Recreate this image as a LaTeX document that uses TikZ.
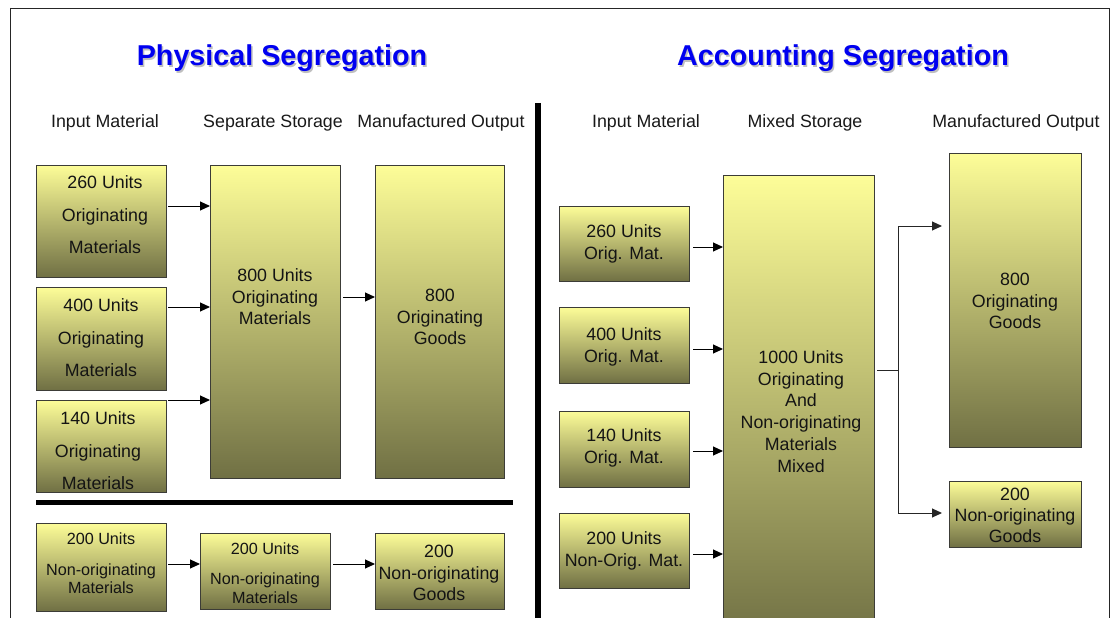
\documentclass[tikz,border=0pt]{standalone}
\usepackage{fontspec}
\setmainfont{Liberation Sans}
\usetikzlibrary{arrows.meta,calc}

\definecolor{boxtop}{RGB}{253,253,152}
\definecolor{boxbot}{RGB}{112,112,68}
\definecolor{boxline}{RGB}{60,60,55}
\definecolor{titleblue}{RGB}{0,0,240}

\tikzset{
  box/.style={draw=boxline, line width=0.9pt, top color=boxtop, bottom color=boxbot,
              inner sep=0pt, outer sep=0pt, anchor=north west},
  lbl/.style={align=center, inner sep=0pt, text=black!92},
  hdr/.style={font=\fontsize{17.8}{21}\selectfont, inner sep=0pt, anchor=base, text=black!90},
  ttl/.style={font=\fontsize{28.7}{34}\selectfont\bfseries, inner sep=0pt, anchor=base},
  arr/.style={line width=1pt, -{Triangle[length=10pt,width=9pt]}},
  conn/.style={line width=0.9pt, draw=black!85},
  bar/.style={line cap=butt, draw=black},
}

% \pbox{name}{left}{top}{right}{bottom}
\newcommand\pbox[5]{%
  \node[box, minimum width={(#4)-(#2)}, minimum height={(#5)-(#3)}] (#1) at (#2,#3) {};}

\begin{document}
\begin{tikzpicture}[x=1pt, y=-1pt]
  \clip (0,0) rectangle (1112,618);
  \fill[white] (0,0) rectangle (1112,618);

  % outer frame
  \draw[line width=0.9pt, black!85] (10,8) -- (1109,8) -- (1109,640) (10,8) -- (10,640);

  % titles with a soft drop shadow
  \node[ttl, text=black!25] at (283.5,67.5) {Physical Segregation};
  \node[ttl, text=titleblue] (t1) at (282,66) {Physical Segregation};
  \node[ttl, text=black!25] at (844.5,67.5) {Accounting Segregation};
  \node[ttl, text=titleblue] (t2) at (843,66) {Accounting Segregation};

  % column headers
  \node[hdr] (h1) at (105,127.3) {Input Material};
  \node[hdr] (h2) at (273,127.3) {Separate Storage};
  \node[hdr] (h3) at (441,127.3) {Manufactured Output};
  \node[hdr] (h4) at (646,127.3) {Input Material};
  \node[hdr] (h5) at (805,127.3) {Mixed Storage};
  \node[hdr] (h6) at (1016,127.3) {Manufactured Output};

  % dividers
  \draw[bar, line width=6.5pt] (538,103) -- (538,640);
  \draw[bar, line width=5pt] (36,502.5) -- (513,502.5);

  % ---------- physical segregation ----------
  \pbox{A1}{36}{165}{166}{277}
  \pbox{A2}{36}{287}{166}{390}
  \pbox{A3}{36}{400}{166}{492}
  \pbox{S}{210}{165}{340}{478}
  \pbox{O}{375}{165}{504}{478}

  \node[lbl, font=\fontsize{17.8}{32.5}\selectfont] (A1t) at (105,215) {260 Units\\Originating\\Materials};
  \node[lbl, font=\fontsize{17.8}{32.5}\selectfont] (A2t) at (101,338) {400 Units\\Originating\\Materials};
  \node[lbl, font=\fontsize{17.8}{32.5}\selectfont] (A3t) at (98,451) {140 Units\\Originating\\Materials};
  \node[lbl, font=\fontsize{17.8}{21.5}\selectfont] (St) at (275,297) {800 Units\\Originating\\Materials};
  \node[lbl, font=\fontsize{17.8}{21.5}\selectfont] (Ot) at (440,317) {800\\Originating\\Goods};

  \coordinate (a1o) at ($(A1.north east)+(2,41)$);
  \coordinate (a2o) at ($(A2.north east)+(2,20)$);
  \coordinate (a3o) at ($(A3.north east)+(2,0)$);
  \coordinate (so)  at ($(S.north east)+(3,132)$);
  \draw[arr] (a1o) -- (a1o -| S.west);
  \draw[arr] (a2o) -- (a2o -| S.west);
  \draw[arr] (a3o) -- (a3o -| S.west);
  \draw[arr] (so) -- (so -| O.west);

  \pbox{B1}{36}{523}{166}{611}
  \pbox{B2}{200}{533}{330}{609}
  \pbox{B3}{375}{533}{504}{609}

  \node[lbl, font=\fontsize{16.2}{18}\selectfont] (B1t) at (101,563.5) {200 Units\\[13pt]Non-originating\\Materials};
  \node[lbl, font=\fontsize{16.2}{19}\selectfont] (B2t) at (265,573.5) {200 Units\\[11pt]Non-originating\\Materials};
  \node[lbl, font=\fontsize{17.8}{21.5}\selectfont] (B3t) at (439,573) {200\\Non-originating\\Goods};

  \coordinate (b1o) at ($(B1.north east)+(2,41)$);
  \coordinate (b2o) at ($(B2.north east)+(3,31)$);
  \draw[arr] (b1o) -- (b1o -| B2.west);
  \draw[arr] (b2o) -- (b2o -| B3.west);

  % ---------- accounting segregation ----------
  \pbox{C1}{559}{206}{689}{281}
  \pbox{C2}{559}{307}{689}{383}
  \pbox{C3}{559}{411}{689}{487}
  \pbox{C4}{559}{513}{689}{588}
  \pbox{M}{723}{175}{874}{640}
  \pbox{G1}{949}{153}{1081}{447}
  \pbox{G2}{949}{481}{1081}{547}

  \node[lbl, font=\fontsize{17.8}{22}\selectfont] (C1t) at (624,244) {260 Units\\Orig. Mat.};
  \node[lbl, font=\fontsize{17.8}{22}\selectfont] (C2t) at (624,347) {400 Units\\Orig. Mat.};
  \node[lbl, font=\fontsize{17.8}{22}\selectfont] (C3t) at (624,448) {140 Units\\Orig. Mat.};
  \node[lbl, font=\fontsize{17.8}{22}\selectfont] (C4t) at (624,551) {200 Units\\Non-Orig. Mat.};
  \node[lbl, font=\fontsize{17.8}{21.8}\selectfont] (Mt) at (801,411.5)
    {1000 Units\\Originating\\And\\Non-originating\\Materials\\Mixed};
  \node[lbl, font=\fontsize{17.8}{21.5}\selectfont] (G1t) at (1015,301) {800\\Originating\\Goods};
  \node[lbl, font=\fontsize{17.8}{21}\selectfont] (G2t) at (1015,515) {200\\Non-originating\\Goods};

  \coordinate (c1o) at ($(C1.north east)+(4,41)$);
  \coordinate (c2o) at ($(C2.north east)+(4,42)$);
  \coordinate (c3o) at ($(C3.north east)+(4,40)$);
  \coordinate (c4o) at ($(C4.north east)+(4,41)$);
  \draw[arr] (c1o) -- (c1o -| M.west);
  \draw[arr] (c2o) -- (c2o -| M.west);
  \draw[arr] (c3o) -- (c3o -| M.west);
  \draw[arr] (c4o) -- (c4o -| M.west);

  % split from mixed storage to the two outputs
  \coordinate (mo)    at ($(M.north east)+(3,195)$);
  \coordinate (split) at ($(M.north east)+(24,195)$);
  \coordinate (g1in)  at ($(G1.north west)+(-7,73)$);
  \coordinate (g2in)  at ($(G2.north west)+(-7,32)$);
  \draw[conn] (mo) -- (split);
  \draw[conn, arr] (split) |- (g1in);
  \draw[conn, arr] (split) |- (g2in);
\end{tikzpicture}
\end{document}
